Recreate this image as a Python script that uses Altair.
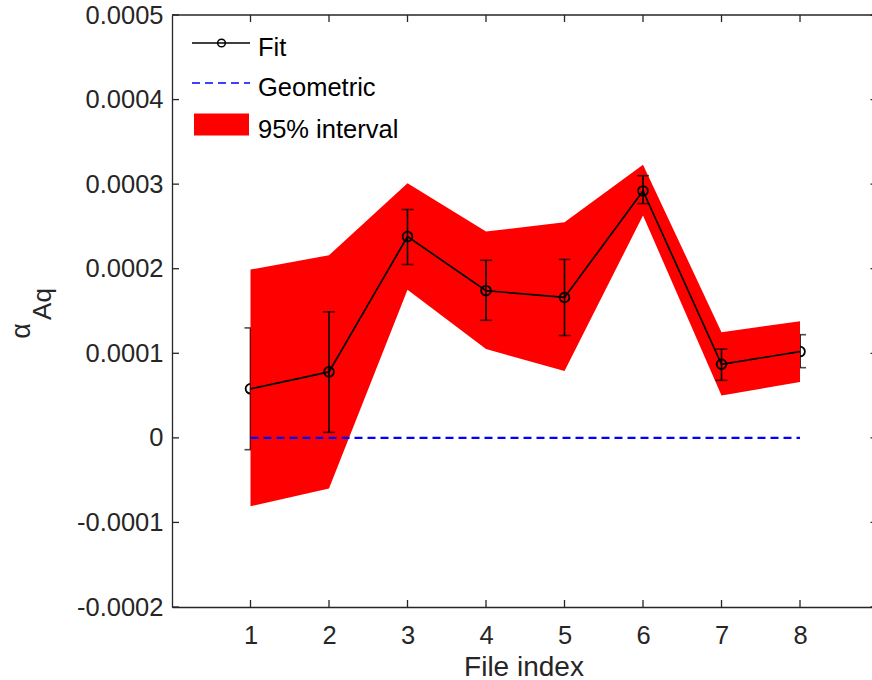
import altair as alt
import pandas as pd

# ---- data ----
file_index = [1, 2, 3, 4, 5, 6, 7, 8]
fit = [0.58e-4, 0.78e-4, 2.38e-4, 1.74e-4, 1.66e-4, 2.92e-4, 0.87e-4, 1.02e-4]
err_upper = [1.30e-4, 1.49e-4, 2.70e-4, 2.10e-4, 2.11e-4, 3.10e-4, 1.05e-4, 1.22e-4]
err_lower = [-0.14e-4, 0.065e-4, 2.05e-4, 1.39e-4, 1.21e-4, 2.77e-4, 0.68e-4, 0.83e-4]
band_upper = [1.99e-4, 2.16e-4, 3.01e-4, 2.44e-4, 2.55e-4, 3.23e-4, 1.25e-4, 1.38e-4]
band_lower = [-0.81e-4, -0.60e-4, 1.75e-4, 1.05e-4, 0.79e-4, 2.63e-4, 0.50e-4, 0.66e-4]
geometric = [0, 0, 0, 0, 0, 0, 0, 0]
x_ticks = [1, 2, 3, 4, 5, 6, 7, 8]
y_ticks = [-0.0002, -0.0001, 0.0, 0.0001, 0.0002, 0.0003, 0.0004, 0.0005]

FONT = "Liberation Sans"
TICK_FS = 25.5
LABEL_FS = 28
AX_COLOR = "#262626"
W, H = 700, 592
X_MAX = 8.917

df = pd.DataFrame({
    "x": file_index, "fit": fit, "eu": err_upper, "el": err_lower,
    "bu": band_upper, "bl": band_lower, "geo": geometric,
})
edge = df[df["x"].isin([1, 8])]
inner = df[~df["x"].isin([1, 8])]
one = pd.DataFrame({"k": [0]})  # single row for decorations

xs = alt.Scale(domain=[0, X_MAX], nice=False, zero=False)
ys = alt.Scale(domain=[-0.0002, 0.0005], nice=False, zero=False)

y_label_expr = ("abs(datum.value) < 1e-12 ? '0' : "
                "(datum.value < 0 ? '-' : '') + format(abs(datum.value), '.4f')")

X = lambda **k: alt.X("x:Q", scale=xs, **k)
Y = lambda f, **k: alt.Y(f, scale=ys, **k)

base_axes = alt.Chart(df).mark_point(opacity=0).encode(
    x=X(axis=alt.Axis(values=x_ticks, format="d", ticks=False, grid=False,
                      labelPadding=16, labelFontSize=TICK_FS, labelFont=FONT,
                      labelFontWeight="normal",
                      labelColor=AX_COLOR, domainColor=AX_COLOR, domainWidth=1.3,
                      title=None)),
    y=Y("fit:Q", axis=alt.Axis(values=y_ticks, labelExpr=y_label_expr, ticks=False,
                               grid=False, labelPadding=9, labelFontSize=TICK_FS,
                               labelFont=FONT, labelFontWeight="normal", labelColor=AX_COLOR,
                               domainColor=AX_COLOR, domainWidth=1.3, title=None)),
)

BAR_W = 1.6
tick_kw = dict(color="black", orient="horizontal", size=12, thickness=BAR_W)
pt_kw = dict(shape="circle", filled=False, color="black", size=95, strokeWidth=1.8, opacity=1)

# edge error bars and markers (partly covered by the band, as in the reference)
edge_bar = alt.Chart(edge).mark_rule(color="black", strokeWidth=BAR_W).encode(
    x=X(), y=Y("el:Q"), y2="eu:Q")
edge_cap_u = alt.Chart(edge).mark_tick(**tick_kw).encode(x=X(), y=Y("eu:Q"))
edge_cap_l = alt.Chart(edge).mark_tick(**tick_kw).encode(x=X(), y=Y("el:Q"))
edge_pt = alt.Chart(edge).mark_point(**pt_kw).encode(x=X(), y=Y("fit:Q"))

band = alt.Chart(df).mark_area(color="#ff0000", opacity=1).encode(
    x=X(), y=Y("bl:Q"), y2="bu:Q")

geo = alt.Chart(df).mark_line(color="#0000ff", strokeWidth=2.2, strokeDash=[8, 5]).encode(
    x=X(), y=Y("geo:Q"))

fit_line = alt.Chart(df).mark_line(color="black", strokeWidth=1.7).encode(
    x=X(), y=Y("fit:Q"))

in_bar = alt.Chart(inner).mark_rule(color="black", strokeWidth=BAR_W).encode(
    x=X(), y=Y("el:Q"), y2="eu:Q")
in_cap_u = alt.Chart(inner).mark_tick(**tick_kw).encode(x=X(), y=Y("eu:Q"))
in_cap_l = alt.Chart(inner).mark_tick(**tick_kw).encode(x=X(), y=Y("el:Q"))
in_pt = alt.Chart(inner).mark_point(**pt_kw).encode(x=X(), y=Y("fit:Q"))

# inward ticks and box
xt = pd.DataFrame({"t": x_ticks})
yt = pd.DataFrame({"t": y_ticks})
xtick_scale = alt.X("t:Q", scale=xs)
ytick_scale = alt.Y("t:Q", scale=ys)
bot_ticks = alt.Chart(xt).mark_rule(color=AX_COLOR, strokeWidth=1.3).encode(
    x=xtick_scale, y=alt.value(H), y2=alt.value(H - 7))
top_ticks = alt.Chart(xt).mark_rule(color=AX_COLOR, strokeWidth=1.3).encode(
    x=xtick_scale, y=alt.value(0), y2=alt.value(7))
left_ticks = alt.Chart(yt).mark_rule(color=AX_COLOR, strokeWidth=1.3).encode(
    y=ytick_scale, x=alt.value(0), x2=alt.value(7))
right_ticks = alt.Chart(yt).mark_rule(color=AX_COLOR, strokeWidth=1.3).encode(
    y=ytick_scale, x=alt.value(W - 1.5), x2=alt.value(W))
top_border = alt.Chart(one).mark_rule(color=AX_COLOR, strokeWidth=1.3).encode(
    x=alt.value(0), x2=alt.value(W), y=alt.value(0))

txt_kw = dict(font=FONT, fontWeight="normal")

# axis titles
x_title = alt.Chart(one).mark_text(text="File index", fontSize=LABEL_FS, color=AX_COLOR,
                                   align="center", baseline="alphabetic", **txt_kw).encode(
    x=alt.value(352), y=alt.value(661))
y_title_a = alt.Chart(one).mark_text(text="α", fontSize=27, angle=270, color=AX_COLOR,
                                     align="center", baseline="middle", **txt_kw).encode(
    x=alt.value(-150), y=alt.value(316))
y_title_b = alt.Chart(one).mark_text(text="Aq", fontSize=26, angle=270, color=AX_COLOR,
                                     align="center", baseline="middle", **txt_kw).encode(
    x=alt.value(-129), y=alt.value(289))

# legend
leg_fit_line = alt.Chart(one).mark_rule(color="black", strokeWidth=1.4).encode(
    x=alt.value(20), x2=alt.value(78), y=alt.value(28))
leg_fit_pt = alt.Chart(one).mark_point(shape="circle", filled=False, color="black", opacity=1,
                                       size=60, strokeWidth=1.5).encode(x=alt.value(49.5), y=alt.value(28))
leg_geo = alt.Chart(one).mark_rule(color="#0000ff", strokeWidth=1.3, strokeDash=[8, 5]).encode(
    x=alt.value(20), x2=alt.value(78), y=alt.value(68))
leg_band = alt.Chart(one).mark_rect(color="#ff0000").encode(
    x=alt.value(22), x2=alt.value(77), y=alt.value(98.5), y2=alt.value(120.5))
leg_txt = lambda t, yb: alt.Chart(one).mark_text(text=t, fontSize=TICK_FS, color="black",
                                                 align="left", baseline="alphabetic", **txt_kw).encode(
    x=alt.value(86), y=alt.value(yb))

chart = alt.layer(
    base_axes, edge_bar, edge_cap_u, edge_cap_l, edge_pt, band, geo, fit_line,
    in_bar, in_cap_u, in_cap_l, in_pt,
    bot_ticks, top_ticks, left_ticks, right_ticks, top_border,
    x_title, y_title_a, y_title_b,
    leg_fit_line, leg_fit_pt, leg_geo, leg_band,
    leg_txt("Fit", 41), leg_txt("Geometric", 81), leg_txt("95% interval", 123),
).properties(
    width=W, height=H,
    autosize=alt.AutoSizeParams(type="none"),
    padding={"left": 172, "top": 15, "right": 0, "bottom": 73},
).configure_view(stroke=None)

chart.save("out.html", embed_options={"renderer": "svg", "actions": False})
